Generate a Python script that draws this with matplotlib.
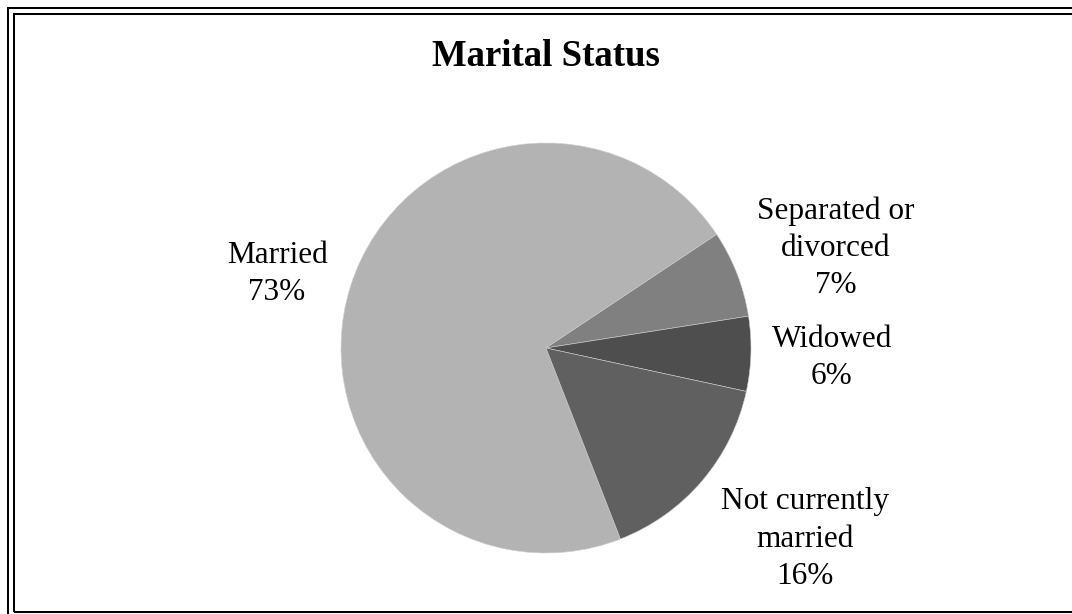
import matplotlib.pyplot as plt
from matplotlib.patches import Rectangle

# 婚姻状况数据 (图中显示的百分比)
categories = ['Married', 'Separated or\ndivorced', 'Widowed', 'Not currently\nmarried']
values = [73, 7, 6, 16]
colors = ['#b3b3b3', '#808080', '#4e4e4e', '#606060']

# 标签位置 (饼图半径为单位, 最后一行基线)
label_pos = [(-1.312, 0.234), (1.415, 0.267), (1.395, -0.176), (1.263, -1.151)]

plt.rcParams['font.family'] = ['Liberation Serif', 'DejaVu Serif']

W, H = 1072, 614
fig = plt.figure(figsize=(W / 100, H / 100), dpi=100)

# 饼图中心 (546, 348) 像素, 半径 205 像素
cx, cy, r = 546, 348, 205
ax = fig.add_axes([(cx - r) / W, (H - cy - r) / H, 2 * r / W, 2 * r / H])
ax.pie(values, colors=colors, startangle=291.3, counterclock=False, radius=1,
       wedgeprops={'edgecolor': '#cfcfcf', 'linewidth': 0.4})
ax.set_xlim(-1, 1)
ax.set_ylim(-1, 1)
ax.axis('off')

for name, v, (x, y) in zip(categories, values, label_pos):
    ax.text(x, y, f'{name}\n{v}%', ha='center', va='baseline', fontsize=22.5,
            linespacing=1.38, multialignment='center', clip_on=False)

fig.text(546 / W, 1 - 66 / H, 'Marital Status', ha='center', va='baseline',
         fontsize=26.5, fontweight='bold')

# 双线边框 (右侧和底部被裁掉)
lw = 1.45
fig.add_artist(Rectangle((8 / W, -0.2), 1.3, 1.2 - 8 / H, transform=fig.transFigure,
                         fill=False, edgecolor='black', linewidth=lw))
fig.add_artist(Rectangle((14 / W, 2 / H), 1.3, 1 - 16 / H, transform=fig.transFigure,
                         fill=False, edgecolor='black', linewidth=lw))

fig.savefig('out.png', dpi=100)
